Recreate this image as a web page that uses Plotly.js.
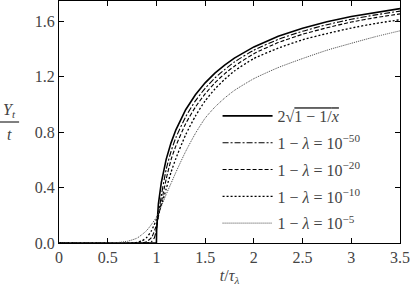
<!DOCTYPE html>
<html>
<head>
<meta charset="utf-8">
<script src="https://cdn.plot.ly/plotly-3.0.1.min.js"></script>
<style>
html,body{margin:0;padding:0;background:#fff;}
#chart{width:415px;height:290px;}
</style>
</head>
<body>
<div id="chart"></div>
<script>
// Limit curve 2*sqrt(1-1/x)
var xLimit = [0, 0.5, 0.9, 0.99, 1.0, 1.002, 1.005, 1.01, 1.02, 1.05, 1.1, 1.15, 1.2, 1.3, 1.4, 1.5, 1.6, 1.7, 1.8, 2.0, 2.25, 2.5, 2.75, 3.0, 3.25, 3.5];
var yLimit = [0, 0, 0, 0, 0, 0.089, 0.141, 0.199, 0.280, 0.436, 0.603, 0.722, 0.816, 0.961, 1.069, 1.155, 1.225, 1.283, 1.333, 1.414, 1.491, 1.549, 1.595, 1.633, 1.664, 1.690];

// 1 - lambda = 1e-50
var x50 = [0, 0.9, 0.95, 0.98, 1.0, 1.02, 1.05, 1.1, 1.15, 1.2, 1.3, 1.4, 1.5, 1.6, 1.7, 1.8, 2.0, 2.25, 2.5, 2.75, 3.0, 3.25, 3.5];
var y50 = [0, 0, 0.01, 0.04, 0.10, 0.20, 0.34, 0.53, 0.66, 0.76, 0.91, 1.025, 1.115, 1.19, 1.25, 1.305, 1.39, 1.468, 1.527, 1.574, 1.613, 1.645, 1.672];

// 1 - lambda = 1e-20
var x20 = [0, 0.85, 0.9, 0.95, 1.0, 1.05, 1.1, 1.15, 1.2, 1.3, 1.4, 1.5, 1.6, 1.7, 1.8, 2.0, 2.25, 2.5, 2.75, 3.0, 3.25, 3.5];
var y20 = [0, 0, 0.01, 0.04, 0.13, 0.29, 0.46, 0.60, 0.70, 0.86, 0.98, 1.075, 1.155, 1.22, 1.275, 1.365, 1.445, 1.505, 1.552, 1.593, 1.625, 1.652];

// 1 - lambda = 1e-10
var x10 = [0, 0.75, 0.8, 0.85, 0.9, 0.95, 1.0, 1.05, 1.1, 1.15, 1.2, 1.3, 1.4, 1.5, 1.6, 1.7, 1.8, 2.0, 2.25, 2.5, 2.75, 3.0, 3.25, 3.5];
var y10 = [0, 0, 0.005, 0.015, 0.04, 0.09, 0.17, 0.27, 0.39, 0.51, 0.61, 0.78, 0.915, 1.025, 1.11, 1.18, 1.24, 1.33, 1.405, 1.465, 1.51, 1.55, 1.583, 1.61];

// 1 - lambda = 1e-5
var x5 = [0, 0.55, 0.6, 0.7, 0.8, 0.85, 0.9, 0.95, 1.0, 1.05, 1.1, 1.15, 1.2, 1.3, 1.4, 1.5, 1.6, 1.7, 1.8, 2.0, 2.25, 2.5, 2.75, 3.0, 3.25, 3.5];
var y5 = [0, 0, 0.003, 0.012, 0.035, 0.06, 0.09, 0.135, 0.185, 0.265, 0.35, 0.43, 0.51, 0.66, 0.79, 0.90, 0.98, 1.045, 1.10, 1.185, 1.265, 1.33, 1.39, 1.44, 1.488, 1.53];

var names = [
  '2√<span style="text-decoration:overline">1 − 1/<i>x</i></span>',
  '1 − <i>λ</i> = 10<sup>−50</sup>',
  '1 − <i>λ</i> = 10<sup>−20</sup>',
  '1 − <i>λ</i> = 10<sup>−10</sup>',
  '1 − <i>λ</i> = 10<sup>−5</sup>'
];

var FONT = 'Liberation Serif';

function tr(x, y, name, color, width, dash, grp) {
  return {x: x, y: y, name: name, type: 'scatter', mode: 'lines', legendgroup: grp,
    line: {color: color, width: width, dash: dash, shape: 'spline', smoothing: 0.6}};
}

var data = [
  tr(xLimit, yLimit, names[0], '#000', 1.6, 'solid', 'a'),
  tr(x50, y50, names[1], '#000', 1.1, '6px,2px,2px,2px', 'b'),
  tr(x20, y20, names[2], '#000', 1.1, '4px,2px', 'c'),
  tr(x10, y10, names[3], '#000', 1.3, '2px,2px', 'd'),
  tr(x5, y5, names[4], '#444', 1.0, '1px,1px', 'e')
];
data[0].line.shape = 'linear';

var layout = {
  width: 415, height: 290,
  margin: {l: 59, r: 15, t: 1, b: 47},
  font: {family: FONT, size: 16},
  showlegend: true,
  legend: {x: 0.465, y: 0.595, xanchor: 'left', yanchor: 'top', bgcolor: 'rgba(0,0,0,0)',
    font: {family: FONT, size: 16}, itemwidth: 50, tracegroupgap: 3, traceorder: 'grouped'},
  xaxis: {range: [0, 3.5], dtick: 0.5, tick0: 0, showgrid: false, zeroline: false,
    showline: true, linecolor: '#000', linewidth: 1, mirror: 'ticks',
    ticks: 'inside', ticklen: 5, tickcolor: '#000',
    tickfont: {family: FONT, size: 16},
    title: {text: '<i>t</i>/<i>τ</i><sub><i>λ</i></sub>', font: {family: FONT, size: 16}, standoff: 4}},
  yaxis: {range: [0, 1.745], dtick: 0.4, tick0: 0, tickformat: '.1f', showgrid: false, zeroline: false,
    showline: true, linecolor: '#000', linewidth: 1, mirror: 'ticks',
    ticks: 'inside', ticklen: 5, tickcolor: '#000',
    tickfont: {family: FONT, size: 16}},
  annotations: [
    {xref: 'paper', yref: 'paper', x: -0.145, y: 0.5, xanchor: 'center', yanchor: 'bottom',
      text: '<i>Y</i><sub><i>t</i></sub>', showarrow: false, font: {family: FONT, size: 16}},
    {xref: 'paper', yref: 'paper', x: -0.145, y: 0.49, xanchor: 'center', yanchor: 'top',
      text: '<i>t</i>', showarrow: false, font: {family: FONT, size: 16}}
  ],
  shapes: [
    {type: 'line', xref: 'paper', yref: 'paper', x0: -0.173, x1: -0.117, y0: 0.5, y1: 0.5,
      line: {color: '#000', width: 1}}
  ]
};

Plotly.newPlot('chart', data, layout, {displayModeBar: false, staticPlot: true}).then(function (gd) {
  var texts = gd.querySelectorAll('text');
  for (var i = 0; i < texts.length; i++) {
    texts[i].setAttribute('font-family', FONT);
  }
});
</script>
</body>
</html>
